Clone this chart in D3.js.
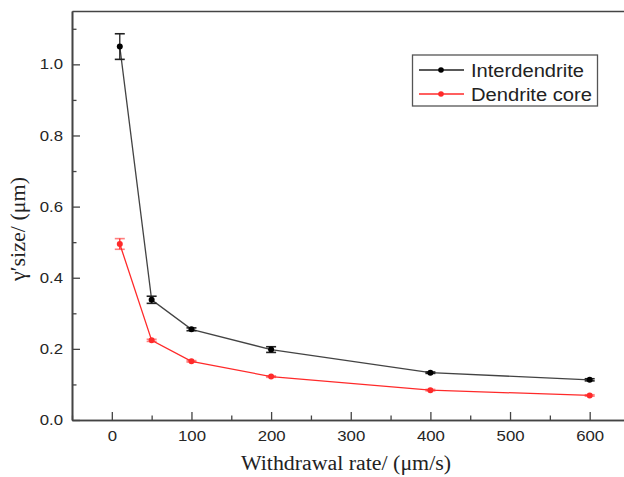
<!DOCTYPE html>
<html>
<head>
<meta charset="utf-8">
<script src="https://cdn.jsdelivr.net/npm/d3@7"></script>
<style>
  html, body { margin: 0; padding: 0; background: #fff; }
  svg { display: block; }
</style>
</head>
<body>
<svg id="chart" width="624" height="477"></svg>
<script>
// Withdrawal rates (µm/s)
const rates = [10, 50, 100, 200, 400, 600];
// γ′ size (µm) and error half-widths
const interdendrite = [1.050, 0.338, 0.255, 0.198, 0.133, 0.113];
const interdendriteErr = [0.036, 0.010, 0.004, 0.008, 0.002, 0.003];
const dendriteCore = [0.495, 0.224, 0.165, 0.122, 0.084, 0.069];
const dendriteCoreErr = [0.015, 0.003, 0.002, 0.002, 0.002, 0.002];

const seriesNames = ["Interdendrite", "Dendrite core"];
const seriesColors = ["#222222", "#ff2a2a"];

const xMajorTicks = [0, 100, 200, 300, 400, 500, 600];
const xMinorTicks = [-50, 50, 150, 250, 350, 450, 550, 650];
const yMajorTicks = [0.0, 0.2, 0.4, 0.6, 0.8, 1.0];
const yMinorTicks = [0.1, 0.3, 0.5, 0.7, 0.9, 1.1];

const xTitle = "Withdrawal rate/ (\u03bcm/s)";
const yTitle = "\u03b3\u2032size/ (\u03bcm)";

const svg = d3.select("#chart");
const plotLeft = 72, plotRight = 629.5, plotTop = 11, plotBottom = 420;
const axisColor = "#444";
const stretch = 1.18;

const x = d3.scaleLinear().domain([-50, 650]).range([plotLeft, plotRight]);
const y = d3.scaleLinear().domain([0, 1.15]).range([plotBottom, plotTop]);

// Axes with inward ticks
const gx = svg.append("g").attr("transform", `translate(0,${plotBottom})`)
  .call(d3.axisBottom(x).tickValues(xMajorTicks).tickSizeInner(-8).tickSizeOuter(0)
    .tickPadding(10.8).tickFormat(d3.format("d")));
gx.append("g").call(d3.axisBottom(x).tickValues(xMinorTicks).tickSizeInner(-4.5)
    .tickSizeOuter(0).tickFormat(""));

const gy = svg.append("g").attr("transform", `translate(${plotLeft},0)`)
  .call(d3.axisLeft(y).tickValues(yMajorTicks).tickSizeInner(-8).tickSizeOuter(0)
    .tickPadding(9).tickFormat(d3.format(".1f")));
gy.append("g").call(d3.axisLeft(y).tickValues(yMinorTicks).tickSizeInner(-4.5)
    .tickSizeOuter(0).tickFormat(""));

svg.append("g").attr("transform", `translate(0,${plotTop})`)
  .call(d3.axisTop(x).tickValues([]).tickSizeOuter(0));

svg.selectAll(".domain").attr("stroke", axisColor).attr("stroke-width", 1.6);
svg.selectAll(".tick line").attr("stroke", axisColor).attr("stroke-width", 1.3);
svg.selectAll(".tick text")
  .attr("fill", "#262626")
  .attr("font-family", "Liberation Sans, Arial, sans-serif")
  .attr("font-size", 14.2);
gx.selectAll(".tick text").attr("transform", `scale(${stretch},1)`);
gy.selectAll(".tick text")
  .attr("x", -9 / stretch)
  .attr("transform", `scale(${stretch},1)`);

// Axis titles
svg.append("text")
  .attr("x", 346).attr("y", 470)
  .attr("text-anchor", "middle")
  .attr("font-family", "Liberation Serif, Times New Roman, serif")
  .attr("font-size", 20).attr("fill", "#222")
  .attr("textLength", 210).attr("lengthAdjust", "spacingAndGlyphs")
  .text(xTitle);

svg.append("text")
  .attr("transform", "translate(25,229) rotate(-90)")
  .attr("text-anchor", "middle")
  .attr("font-family", "Liberation Serif, Times New Roman, serif")
  .attr("font-size", 20).attr("fill", "#222")
  .attr("textLength", 104).attr("lengthAdjust", "spacingAndGlyphs")
  .text(yTitle);

// Series
const series = [
  { values: interdendrite, err: interdendriteErr },
  { values: dendriteCore, err: dendriteCoreErr }
];

const line = d3.line().x(d => x(d.r)).y(d => y(d.v));

series.forEach((s, i) => {
  const pts = rates.map((r, j) => ({ r, v: s.values[j], e: s.err[j] }));
  const g = svg.append("g");
  const col = seriesColors[i];
  g.append("path").datum(pts)
    .attr("d", line).attr("fill", "none")
    .attr("stroke", col).attr("stroke-width", 1.3)
    .attr("stroke-opacity", i === 0 ? 0.85 : 1);

  const eb = g.selectAll(".eb").data(pts).enter().append("g");
  eb.append("line")
    .attr("x1", d => x(d.r)).attr("x2", d => x(d.r))
    .attr("y1", d => y(d.v + d.e)).attr("y2", d => y(d.v - d.e))
    .attr("stroke", col).attr("stroke-width", 1.3);
  [1, -1].forEach(sign => {
    eb.append("line")
      .attr("x1", d => x(d.r) - 5).attr("x2", d => x(d.r) + 5)
      .attr("y1", d => y(d.v + sign * d.e)).attr("y2", d => y(d.v + sign * d.e))
      .attr("stroke", col).attr("stroke-width", 1.6)
      .attr("stroke-opacity", i === 0 ? 1 : 0.6);
  });

  g.selectAll("circle").data(pts).enter().append("circle")
    .attr("cx", d => x(d.r)).attr("cy", d => y(d.v))
    .attr("r", 3).attr("fill", i === 0 ? "#000" : col);
});

// Legend
const lg = svg.append("g");
lg.append("rect")
  .attr("x", 412.5).attr("y", 55).attr("width", 185).attr("height", 51)
  .attr("fill", "#fff").attr("stroke", "#555").attr("stroke-width", 1.3);
const legendRows = [70, 94];
const legendWidths = [113, 121];
seriesNames.forEach((name, i) => {
  const yy = legendRows[i];
  lg.append("line").attr("x1", 419).attr("x2", 464).attr("y1", yy).attr("y2", yy)
    .attr("stroke", seriesColors[i]).attr("stroke-width", 1.3);
  lg.append("circle").attr("cx", 441).attr("cy", yy).attr("r", 2.8)
    .attr("fill", i === 0 ? "#000" : seriesColors[i]);
  lg.append("text").attr("x", 471).attr("y", yy + 6.7)
    .attr("font-family", "Liberation Sans, Arial, sans-serif")
    .attr("font-size", 18).attr("fill", "#222")
    .attr("textLength", legendWidths[i]).attr("lengthAdjust", "spacingAndGlyphs")
    .text(name);
});
</script>
</body>
</html>
